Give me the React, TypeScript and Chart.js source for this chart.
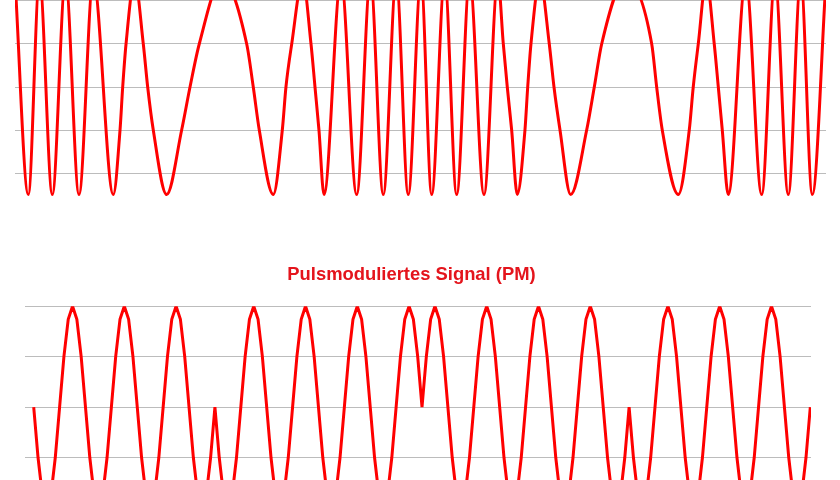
import React, { useEffect, useRef } from "react";
import { Chart, registerables } from "chart.js";

Chart.register(...registerables);

// ---- Top chart (FM signal, upper part cropped) ----
// time (0..100) and amplitude: extrema and grid crossings
const fmTime = [
  0, 1.64, 3.02, 4.6, 6.23, 7.89, 9.65,
  12.12, 12.95, 13.28, 13.69, 14.76, 15.82, 16.36, 17.05,
  18.7, 20.55, 21.58, 22.72, 25.52, 28.57, 29.38, 30.12,
  31.85, 32.96, 33.41, 34.12, 35.47, 36.5, 36.99, 37.48,
  38.1, 40.2, 42.13, 43.83, 45.41, 47.01, 48.49, 50.06, 51.38, 52.98, 54.46, 56.06, 57.83,
  59.55, 60.21, 60.7, 61.24, 61.93, 62.88, 63.22, 63.62,
  64.73, 65.88, 66.46, 67.2, 68.52, 70.49, 71.43, 72.34,
  75.34, 78.51, 79.12, 79.81, 81.79, 83.14, 83.63, 84.25,
  85.24, 86.22, 86.72, 87.21, 87.95,
  90.11, 92.07, 93.71, 95.35, 96.89, 98.31, 100,
];
const fmValue = [
  1, -1, 1, -1, 1, -1, 1,
  -1, -0.4, 0, 0.4, 1, 0.4, 0, -0.4,
  -1, -0.4, 0, 0.4, 1, 0.4, 0, -0.4,
  -1, -0.4, 0, 0.4, 1, 0.4, 0, -0.4,
  -1, 1, -1, 1, -1, 1, -1, 1, -1, 1, -1, 1, -1,
  1, 0.4, 0, -0.4, -1, -0.4, 0, 0.4,
  1, 0.4, 0, -0.4, -1, -0.4, 0, 0.4,
  1, 0.4, 0, -0.4, -1, -0.4, 0, 0.4,
  1, 0.4, 0, -0.4, -1,
  1, -1, 1, -1, 1, -1, 1,
];
const fmGridTicks = [-0.8, -0.4, 0, 0.4, 0.8];

// ---- Bottom chart (PM signal) ----
const pmTitle = "Pulsmoduliertes Signal (PM)";
const pmValues = [
  0, -0.5, -0.87, -1, -0.87, -0.5, 0, 0.5, 0.87, 1, 0.87, 0.5,
  0, -0.5, -0.87, -1, -0.87, -0.5, 0, 0.5, 0.87, 1, 0.87, 0.5,
  0, -0.5, -0.87, -1, -0.87, -0.5, 0, 0.5, 0.87, 1, 0.87, 0.5,
  0, -0.5, -0.87, -1, -0.87, -0.5, 0, -0.5, -0.87, -1, -0.87, -0.5,
  0, 0.5, 0.87, 1, 0.87, 0.5, 0, -0.5, -0.87, -1, -0.87, -0.5,
  0, 0.5, 0.87, 1, 0.87, 0.5, 0, -0.5, -0.87, -1, -0.87, -0.5,
  0, 0.5, 0.87, 1, 0.87, 0.5, 0, -0.5, -0.87, -1, -0.87, -0.5,
  0, 0.5, 0.87, 1, 0.87, 0.5, 0, 0.5, 0.87, 1, 0.87, 0.5,
  0, -0.5, -0.87, -1, -0.87, -0.5, 0, 0.5, 0.87, 1, 0.87, 0.5,
  0, -0.5, -0.87, -1, -0.87, -0.5, 0, 0.5, 0.87, 1, 0.87, 0.5,
  0, -0.5, -0.87, -1, -0.87, -0.5, 0, 0.5, 0.87, 1, 0.87, 0.5,
  0, -0.5, -0.87, -1, -0.87, -0.5, 0, -0.5, -0.87, -1, -0.87, -0.5,
  0, 0.5, 0.87, 1, 0.87, 0.5, 0, -0.5, -0.87, -1, -0.87, -0.5,
  0, 0.5, 0.87, 1, 0.87, 0.5, 0, -0.5, -0.87, -1, -0.87, -0.5,
  0, 0.5, 0.87, 1, 0.87, 0.5, 0, -0.5, -0.87, -1, -0.87, -0.5,
  0,
];
const pmGridTicks = [-1, -0.5, 0, 0.5, 1];

const RED = "#ff0000";
const TITLE_RED = "#e4141c";
const GRID = "rgb(188,188,188)";

export default function App() {
  const topRef = useRef<HTMLCanvasElement>(null);
  const botRef = useRef<HTMLCanvasElement>(null);

  useEffect(() => {
    const top = new Chart(topRef.current!, {
      type: "line",
      data: {
        datasets: [
          {
            data: fmTime.map((t, i) => ({ x: t, y: fmValue[i] })),
            borderColor: RED,
            borderWidth: 3,
            pointRadius: 0,
            cubicInterpolationMode: "monotone",
            fill: false,
          },
        ],
      },
      options: {
        responsive: false,
        animation: false,
        events: [],
        layout: { autoPadding: false, padding: { left: 15, right: 14, top: 14.1, bottom: 10.1 } },
        plugins: { legend: { display: false }, title: { display: false }, tooltip: { enabled: false } },
        scales: {
          x: { type: "linear", min: 0, max: 100, display: false },
          y: {
            type: "linear",
            min: -1.05,
            max: 1.05,
            afterBuildTicks: (s: any) => {
              s.ticks = fmGridTicks.map((v) => ({ value: v }));
            },
            ticks: { display: false },
            border: { display: false },
            grid: { color: GRID, drawTicks: false, lineWidth: 1 },
          },
        },
      },
    } as any);

    const bot = new Chart(botRef.current!, {
      type: "line",
      data: {
        datasets: [
          {
            data: pmValues.map((v, i) => ({ x: i, y: v })),
            borderColor: RED,
            borderWidth: 3,
            pointRadius: 0,
            tension: 0,
            fill: false,
          },
        ],
      },
      options: {
        responsive: false,
        animation: false,
        events: [],
        layout: { autoPadding: false, padding: { left: 12, right: 29, top: 0, bottom: 32 } },
        plugins: {
          legend: { display: false },
          tooltip: { enabled: false },
          title: {
            display: true,
            text: pmTitle,
            color: TITLE_RED,
            font: { family: "'Liberation Sans', Arial, sans-serif", size: 18.4, weight: "bold", lineHeight: 1.2 },
            padding: { top: 23.5, bottom: 20.6 },
          },
        },
        scales: {
          x: { type: "linear", min: -2.02, max: 180.16, display: false },
          y: {
            type: "linear",
            min: -1,
            max: 1,
            afterBuildTicks: (s: any) => {
              s.ticks = pmGridTicks.map((v) => ({ value: v }));
            },
            afterFit: (s: any) => {
              s.width = 13;
            },
            ticks: { display: false },
            border: { display: false },
            grid: { color: GRID, drawTicks: false, lineWidth: 1 },
          },
        },
      },
    } as any);

    return () => {
      top.destroy();
      bot.destroy();
    };
  }, []);

  return (
    <div
      style={{
        position: "fixed",
        left: 0,
        top: 0,
        width: 840,
        height: 480,
        overflow: "hidden",
        background: "#ffffff",
      }}
    >
      <canvas
        ref={topRef}
        width={840}
        height={250}
        style={{ position: "absolute", left: 0, top: -40, width: 840, height: 250 }}
      />
      <canvas
        ref={botRef}
        width={840}
        height={300}
        style={{ position: "absolute", left: 0, top: 240, width: 840, height: 300 }}
      />
    </div>
  );
}
